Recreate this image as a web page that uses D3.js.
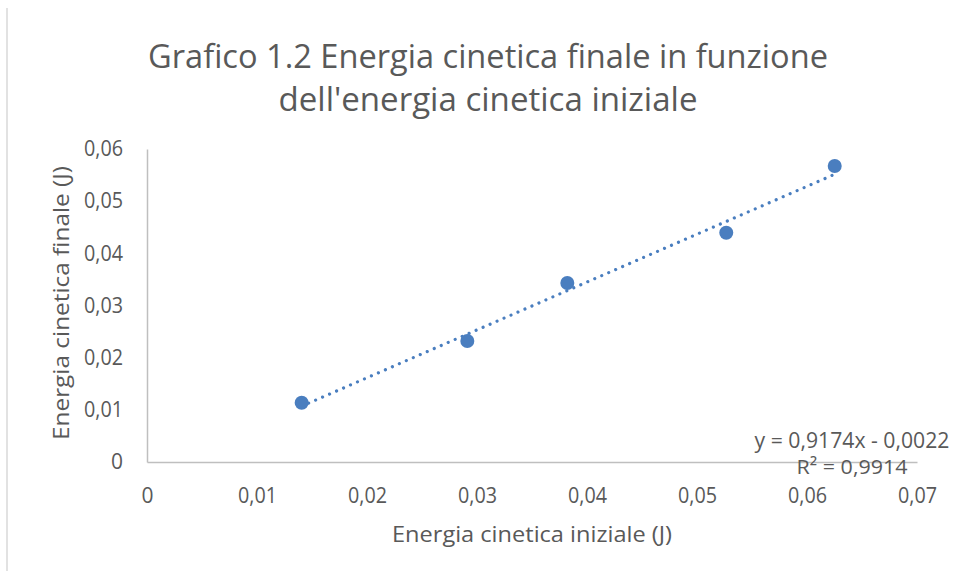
<!DOCTYPE html>
<html>
<head>
<meta charset="utf-8">
<script src="https://cdn.jsdelivr.net/npm/d3@7"></script>
<style>
  html, body { margin: 0; padding: 0; background: #fff; }
  svg { display: block; font-family: "Open Sans", "Noto Sans", sans-serif; }
</style>
</head>
<body>
<svg id="chart" width="955" height="571"></svg>
<script>
// ---- data ----
const titleLines = ["Grafico 1.2 Energia cinetica finale in funzione", "dell'energia cinetica iniziale"];
const xLabel = "Energia cinetica iniziale (J)";
const yLabel = "Energia cinetica finale (J)";
const xValues = [0.01406, 0.02912, 0.03821, 0.05266, 0.06252];
const yValues = [0.01137, 0.02319, 0.03431, 0.04395, 0.05674];
const xTicks = [0, 0.01, 0.02, 0.03, 0.04, 0.05, 0.06, 0.07];
const yTicks = [0, 0.01, 0.02, 0.03, 0.04, 0.05, 0.06];
const trendSlope = 0.9174;
const trendIntercept = -0.0022;
const trendLabels = ["y = 0,9174x - 0,0022", "R² = 0,9914"];

// ---- layout ----
const svg = d3.select("#chart");
const plot = { left: 147, right: 917, top: 149, bottom: 462 };
const textColor = "#595959";
const axisColor = "#bfbfbf";
const markColor = "#4a7ebf";

const locale = d3.formatLocale({ decimal: ",", thousands: ".", grouping: [3], currency: ["", "€"] });
const fmt = locale.format(".2~f");

const x = d3.scaleLinear().domain([0, 0.07]).range([plot.left, plot.right]);
const y = d3.scaleLinear().domain([0, 0.06]).range([plot.bottom, plot.top]);

// chart area border (left edge visible)
svg.append("line").attr("x1", 7).attr("x2", 7).attr("y1", 8).attr("y2", 571)
  .attr("stroke", "#d9d9d9").attr("stroke-width", 1.5);

// fit text to a width
function fit(sel, w) {
  sel.attr("textLength", w).attr("lengthAdjust", "spacingAndGlyphs");
}

// title
const titleW = [680, 419];
const titleY = [68, 111];
titleLines.forEach((t, i) => {
  svg.append("text").attr("x", 488).attr("y", titleY[i]).attr("text-anchor", "middle")
    .attr("font-size", 33).attr("fill", textColor).text(t).call(fit, titleW[i]);
});

function styleTicks(g) {
  g.selectAll("text").attr("font-size", 21).attr("fill", textColor).attr("font-family", "Open Sans")
    .each(function (d) { if (d !== 0) d3.select(this).call(fit, 39); });
}

// axes
const xAxis = d3.axisBottom(x).tickValues(xTicks).tickFormat(fmt).tickSize(0).tickPadding(26);
const gx = svg.append("g").attr("transform", `translate(0,${plot.bottom})`).call(xAxis);
gx.select(".domain").attr("stroke", axisColor).attr("stroke-width", 1.5);
gx.call(styleTicks);

const yAxis = d3.axisLeft(y).tickValues(yTicks).tickFormat(fmt).tickSize(0).tickPadding(24);
const gy = svg.append("g").attr("transform", `translate(${plot.left},0)`).call(yAxis);
gy.select(".domain").attr("stroke", axisColor).attr("stroke-width", 1.5);
gy.call(styleTicks);

// axis titles
svg.append("text").attr("x", 532).attr("y", 542).attr("text-anchor", "middle")
  .attr("font-size", 22).attr("fill", textColor).text(xLabel).call(fit, 280);
svg.append("text").attr("transform", "translate(69,303) rotate(-90)").attr("text-anchor", "middle")
  .attr("font-size", 22).attr("fill", textColor).text(yLabel).call(fit, 274);

// trendline (dotted) over the data range
const xMin = d3.min(xValues), xMax = d3.max(xValues);
svg.append("line")
  .attr("x1", x(xMin)).attr("y1", y(trendSlope * xMin + trendIntercept))
  .attr("x2", x(xMax)).attr("y2", y(trendSlope * xMax + trendIntercept))
  .attr("stroke", markColor).attr("stroke-width", 3.2)
  .attr("stroke-linecap", "round").attr("stroke-dasharray", "0.01 7.6");

// points
svg.append("g").selectAll("circle").data(xValues.map((v, i) => [v, yValues[i]])).join("circle")
  .attr("cx", d => x(d[0])).attr("cy", d => y(d[1])).attr("r", 7)
  .attr("fill", markColor);

// trendline equation label
svg.append("text").attr("x", 852).attr("y", 448).attr("text-anchor", "middle")
  .attr("font-size", 21).attr("fill", textColor).text(trendLabels[0]).call(fit, 195);
svg.append("text").attr("x", 852).attr("y", 474).attr("text-anchor", "middle")
  .attr("font-size", 20).attr("fill", textColor).text(trendLabels[1]).call(fit, 111);
</script>
</body>
</html>
